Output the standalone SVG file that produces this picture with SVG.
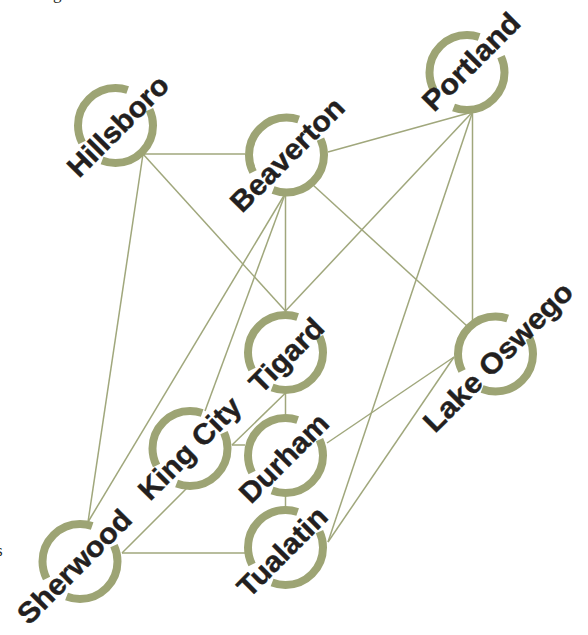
<svg xmlns="http://www.w3.org/2000/svg" width="588" height="635" viewBox="0 0 588 635">
<style>
.edge{stroke:#a0a77c;stroke-width:1.5;fill:none}
.ring{fill:none;stroke:#9da474;stroke-width:8;stroke-dasharray:136 42 136 46;stroke-dashoffset:25}
.lbl{font-family:"Liberation Sans",Arial,sans-serif;font-weight:700;font-size:29px;fill:#231f20;stroke:#231f20;stroke-width:0.4}
.frag{font-family:"Liberation Serif","Times New Roman",serif;font-size:17px;fill:#231f20}
</style>
<rect width="588" height="635" fill="#ffffff"/>
<text class="frag" x="53" y="-1">g</text>
<text class="frag" x="-4" y="556">s</text>
<g id="connectors">
<line class="edge" x1="143" y1="154" x2="245" y2="154"/>
<line class="edge" x1="143" y1="154" x2="285.5" y2="311"/>
<line class="edge" x1="143" y1="154" x2="88" y2="522"/>
<line class="edge" x1="328" y1="152" x2="472.5" y2="112"/>
<line class="edge" x1="313" y1="185" x2="467" y2="326"/>
<line class="edge" x1="285.5" y1="194" x2="285.5" y2="311"/>
<line class="edge" x1="285.5" y1="193" x2="205" y2="411"/>
<line class="edge" x1="285.5" y1="193" x2="88" y2="522"/>
<line class="edge" x1="472.5" y1="112" x2="285.5" y2="311"/>
<line class="edge" x1="472.5" y1="112" x2="328" y2="542"/>
<line class="edge" x1="472.5" y1="112" x2="472.5" y2="324"/>
<line class="edge" x1="232" y1="445" x2="285.5" y2="393"/>
<line class="edge" x1="232" y1="445" x2="245" y2="445"/>
<line class="edge" x1="285.5" y1="393" x2="285.5" y2="414"/>
<line class="edge" x1="327" y1="443" x2="454" y2="357"/>
<line class="edge" x1="285.5" y1="497" x2="285.5" y2="507"/>
<line class="edge" x1="328" y1="542" x2="454" y2="357"/>
<line class="edge" x1="122" y1="553" x2="245" y2="553"/>
<line class="edge" x1="122" y1="553" x2="187" y2="488"/>
</g>
<g id="hillsboro"><circle class="ring" cx="115.5" cy="125.5" r="37.5" pathLength="360"/><text class="lbl" transform="translate(79,179) rotate(-45)" textLength="130" lengthAdjust="spacingAndGlyphs">Hillsboro</text></g>
<g id="beaverton"><circle class="ring" cx="286.5" cy="155" r="37.5" pathLength="360"/><text class="lbl" transform="translate(242,214) rotate(-45)" textLength="148" lengthAdjust="spacingAndGlyphs">Beaverton</text></g>
<g id="portland"><circle class="ring" cx="467" cy="72.5" r="37.5" pathLength="360"/><text class="lbl" transform="translate(434,113) rotate(-45)" textLength="125" lengthAdjust="spacingAndGlyphs">Portland</text></g>
<g id="tigard"><circle class="ring" cx="285.5" cy="352.5" r="37.5" pathLength="360"/><text class="lbl" transform="translate(261,395) rotate(-45)" textLength="92" lengthAdjust="spacingAndGlyphs">Tigard</text></g>
<g id="kingcity"><circle class="ring" cx="190" cy="448.5" r="37.5" pathLength="360"/><text class="lbl" transform="translate(150,502) rotate(-45)" textLength="132" lengthAdjust="spacingAndGlyphs">King City</text></g>
<g id="durham"><circle class="ring" cx="285.5" cy="455.5" r="37.5" pathLength="360"/><text class="lbl" transform="translate(251,505) rotate(-45)" textLength="113" lengthAdjust="spacingAndGlyphs">Durham</text></g>
<g id="tualatin"><circle class="ring" cx="285.5" cy="547.5" r="37.5" pathLength="360"/><text class="lbl" transform="translate(249,599) rotate(-45)" textLength="114" lengthAdjust="spacingAndGlyphs">Tualatin</text></g>
<g id="sherwood"><circle class="ring" cx="80" cy="561.5" r="37.5" pathLength="360"/><text class="lbl" transform="translate(29,626) rotate(-45)" textLength="148" lengthAdjust="spacingAndGlyphs">Sherwood</text></g>
<g id="lakeoswego"><circle class="ring" cx="495.5" cy="354" r="37.5" pathLength="360"/><text class="lbl" transform="translate(435,434) rotate(-45)" textLength="198" lengthAdjust="spacingAndGlyphs">Lake Oswego</text></g>
</svg>
